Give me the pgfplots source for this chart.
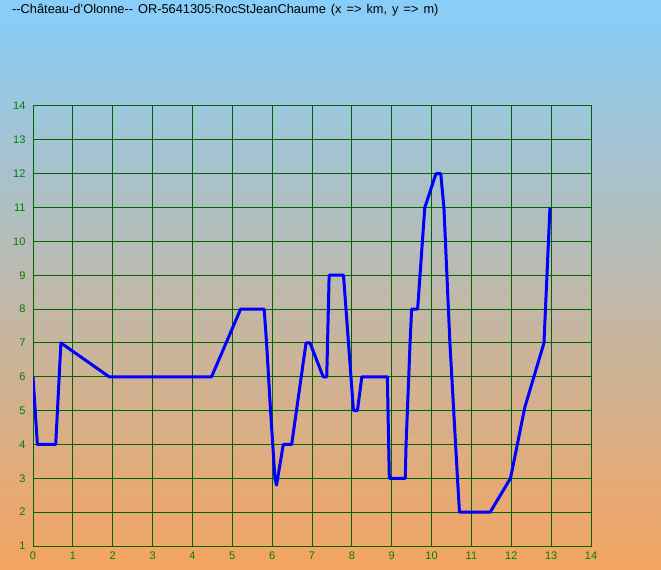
\documentclass[border=0pt]{standalone}
\usepackage{pgfplots}
\pgfplotsset{compat=1.18}
\usepackage{fontspec}
\setmainfont{Liberation Sans}
\definecolor{bgtop}{RGB}{135,206,250}
\definecolor{bgbot}{RGB}{244,164,96}
\definecolor{gridgreen}{RGB}{0,100,0}
\definecolor{tickgreen}{RGB}{0,128,0}
\begin{document}
\begin{tikzpicture}
\shade[top color=bgtop,bottom color=bgbot] (0pt,0pt) rectangle (661pt,570pt);
\useasboundingbox (0pt,0pt) rectangle (661pt,570pt);
\node[anchor=west,font=\fontsize{12.8}{14}\selectfont,inner sep=0pt] at (12pt,560pt) {\spaceskip=5pt plus 1pt -{}-Château-d'Olonne-{}- OR-5641305:RocStJeanChaume (x => km, y => m)};
\begin{axis}[
  at={(33pt,24pt)}, anchor=south west,
  scale only axis, width=558pt, height=440pt,
  xmin=0, xmax=14, ymin=1, ymax=14,
  xtick={0,1,...,14}, ytick={1,2,...,14},
  grid=major,
  major grid style={gridgreen, line width=1pt},
  axis line style={gridgreen, line width=1pt},
  major tick length=0pt,
  tick label style={font=\fontsize{11}{12}\selectfont, text=tickgreen},
  /pgf/number format/assume math mode=true,
  xticklabel style={yshift=-2pt},
  yticklabel style={xshift=-4pt},
]
\addplot[blue, line width=3pt, line join=round] coordinates {
(0,6) (0.11,4) (0.57,4) (0.70,7) (1.91,6) (4.48,6) (5.21,8) (5.80,8)
(5.86,7) (5.96,5) (6.07,3) (6.11,2.8) (6.28,4) (6.49,4) (6.85,7) (6.95,7)
(7.28,6) (7.37,6) (7.43,9) (7.79,9) (8.04,5) (8.14,5) (8.25,6) (8.89,6)
(8.94,3) (9.34,3) (9.36,4) (9.46,7) (9.50,8) (9.65,8) (9.71,9) (9.83,11)
(10.11,12) (10.23,12) (10.31,11) (10.46,7) (10.65,3) (10.70,2) (11.47,2)
(11.98,3) (12.34,5.1) (12.82,7) (12.97,11)
};
\end{axis}
\end{tikzpicture}
\end{document}
